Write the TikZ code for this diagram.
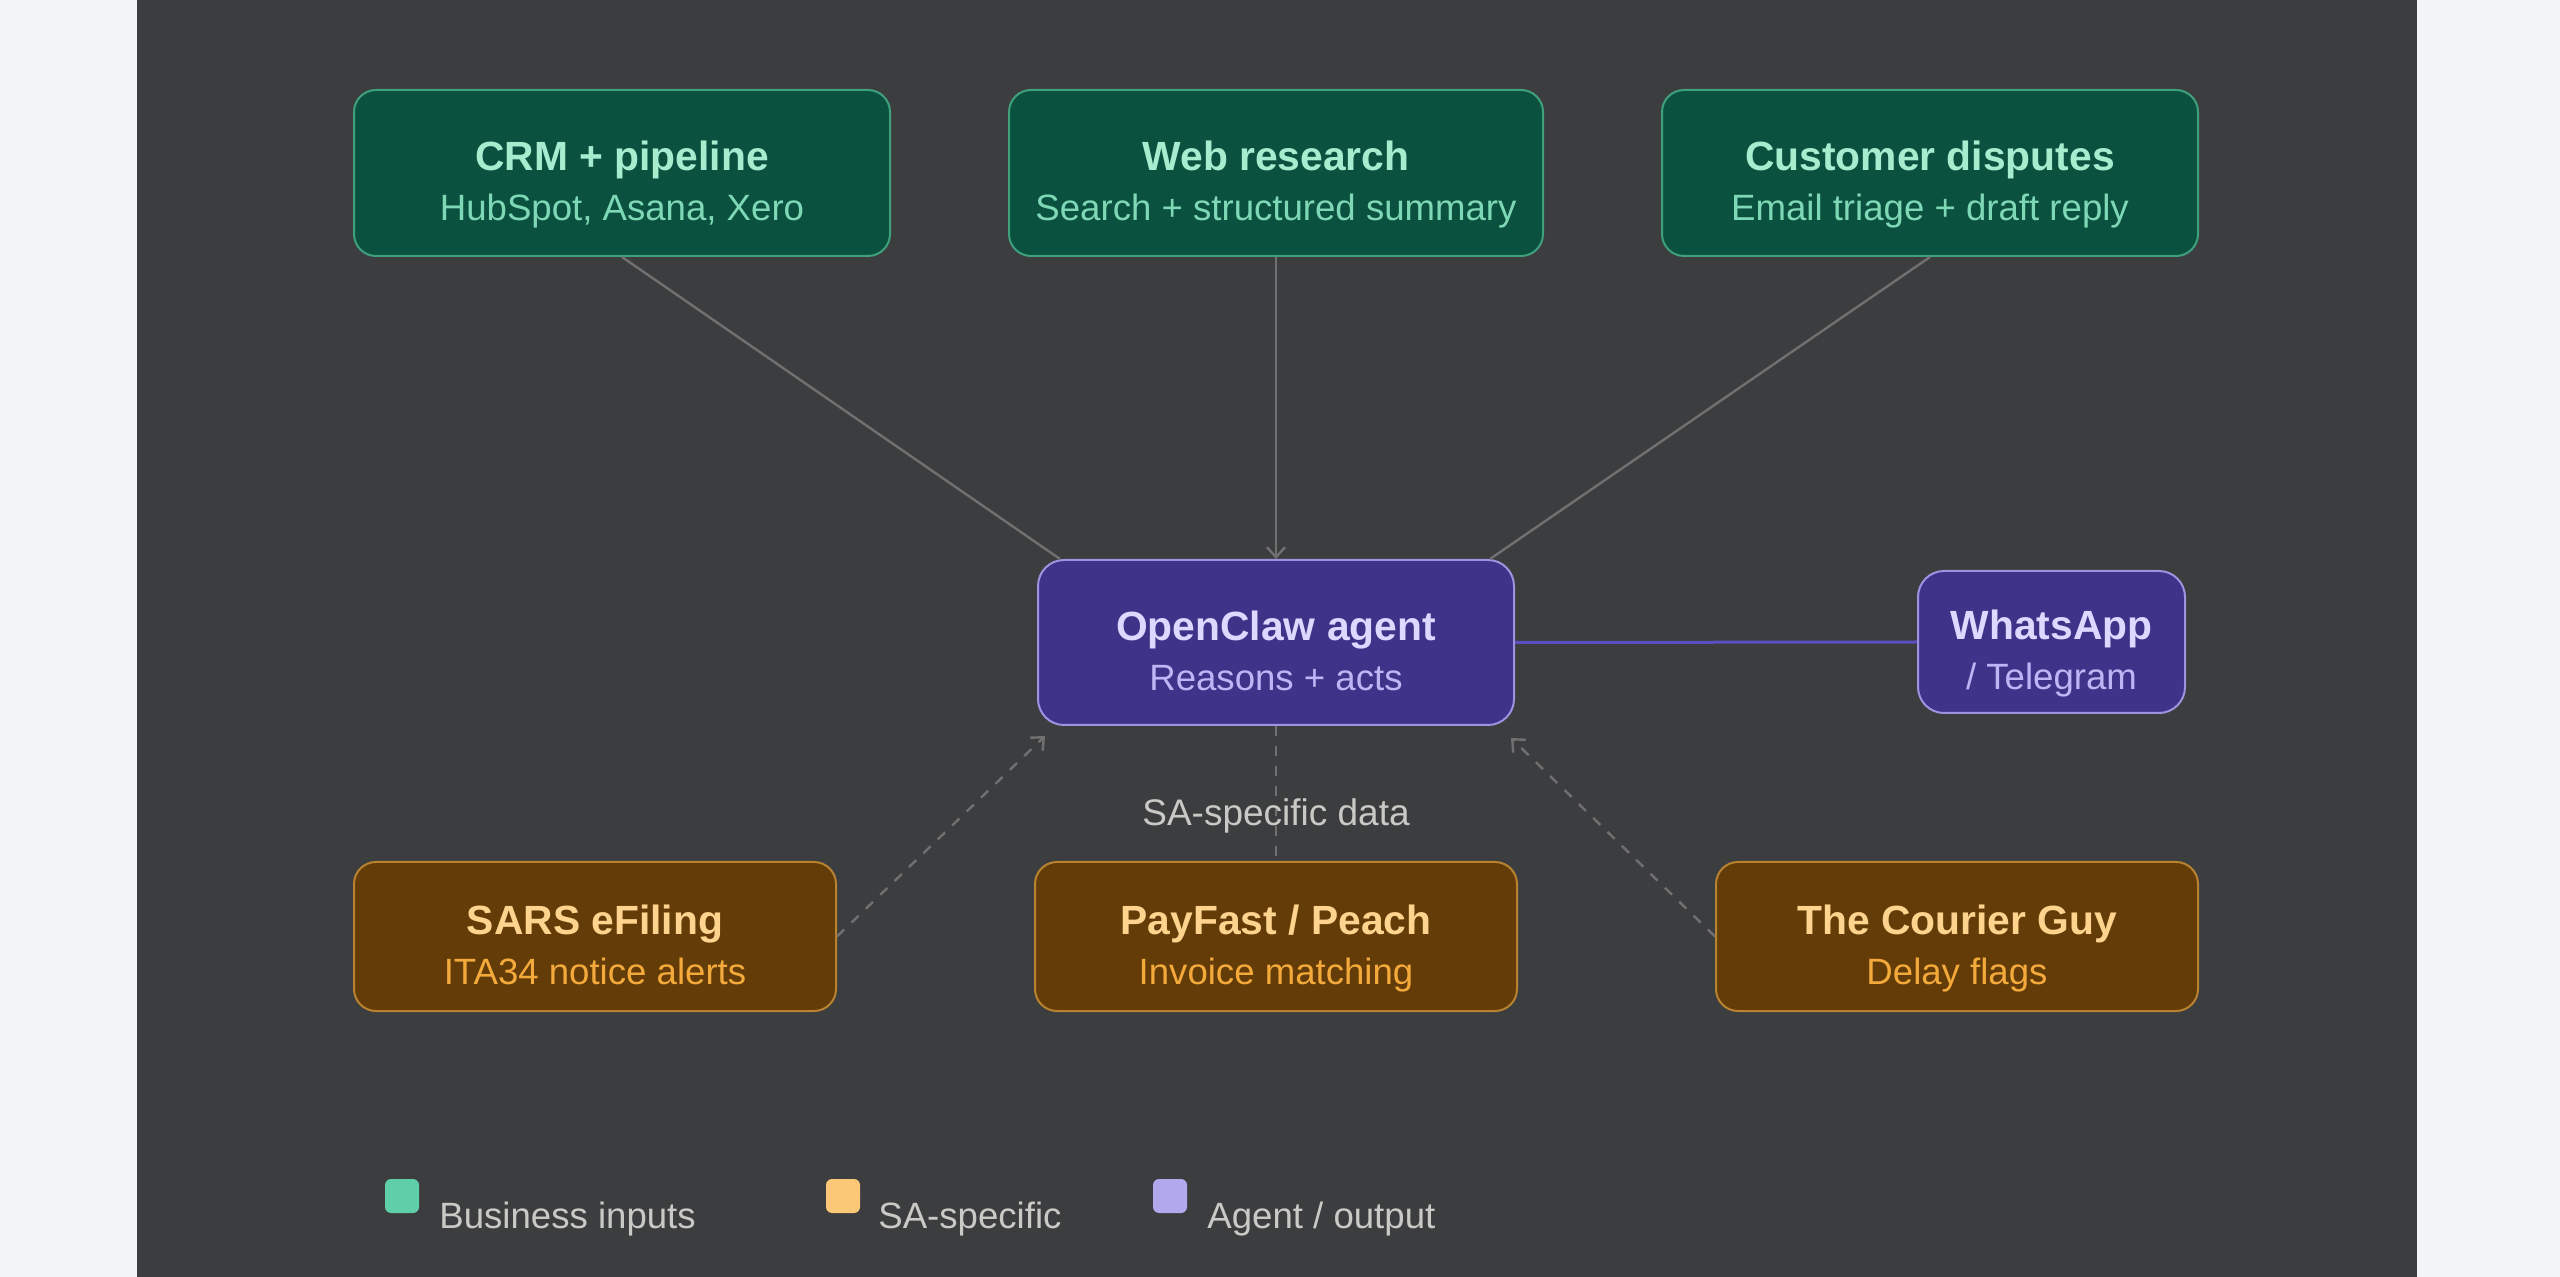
\documentclass[tikz,border=0pt]{standalone}
\usepackage{fontspec}
\setmainfont{Liberation Sans}
\usetikzlibrary{arrows.meta,calc}
\definecolor{outer}{HTML}{F3F4F8}
\definecolor{panel}{HTML}{3C3D3F}
\definecolor{gfill}{HTML}{0B5140}
\definecolor{gdraw}{HTML}{3FA07C}
\definecolor{gtext}{HTML}{A8ECD0}
\definecolor{gsubc}{HTML}{7FD8B5}
\definecolor{ofill}{HTML}{633C08}
\definecolor{odraw}{HTML}{B9822E}
\definecolor{otext}{HTML}{FDD38E}
\definecolor{osubc}{HTML}{F4A93B}
\definecolor{pfill}{HTML}{3E3388}
\definecolor{pdraw}{HTML}{9D93E0}
\definecolor{ptext}{HTML}{DCD8FF}
\definecolor{psubc}{HTML}{BDB5F5}
\definecolor{conn}{HTML}{707070}
\definecolor{pconn}{HTML}{5A4FC0}
\definecolor{legtext}{HTML}{C9C9C5}
\definecolor{lgg}{HTML}{5FCFA9}
\definecolor{lgo}{HTML}{FBC878}
\definecolor{lgp}{HTML}{B1A8EE}
\tikzset{
  basebox/.style={rounded corners=11pt, line width=1pt, inner sep=0pt},
  gbox/.style={basebox, fill=gfill, draw=gdraw},
  obox/.style={basebox, fill=ofill, draw=odraw},
  pbox/.style={basebox, fill=pfill, draw=pdraw, rounded corners=13pt},
  ttl/.style={inner sep=0pt, anchor=base, font=\fontsize{20.4}{24}\selectfont\bfseries},
  sbt/.style={inner sep=0pt, anchor=base, font=\fontsize{18.3}{22}\selectfont},
  gtitle/.style={ttl, text=gtext}, gsub/.style={sbt, text=gsubc},
  otitle/.style={ttl, text=otext}, osub/.style={sbt, text=osubc},
  ptitle/.style={ttl, text=ptext}, psub/.style={sbt, text=psubc},
  link/.style={draw=conn, line width=1.2pt},
  dlink/.style={draw=conn, line width=1.2pt, dash pattern=on 5pt off 5pt},
  tip/.style={-{Straight Barb[length=5pt,width=9pt]}},
  legsq/.style={minimum size=17pt, inner sep=0pt, rounded corners=3pt},
  legtx/.style={inner sep=0pt, anchor=base west, text=legtext, font=\fontsize{18.3}{22}\selectfont},
}
\newcommand{\mkbox}[7]{%
  \node[#5box, minimum width=#3, minimum height=#4] (#1) at #2 {};
  \node[#5title] (#1-t) at ([yshift=1pt]#1.center) {#6};
  \node[#5sub] (#1-s) at ([yshift=-24pt]#1.center) {#7};
}
\begin{document}
\begin{tikzpicture}[x=0.5pt,y=-0.5pt]
\useasboundingbox (0,0) rectangle (2560,1277);
\fill[outer] (0,0) rectangle (2560,1277);
\fill[panel] (137,0) rectangle (2417,1277);

\mkbox{crm}{(622,173)}{268pt}{83pt}{g}{CRM + pipeline}{HubSpot, Asana, Xero}
\mkbox{web}{(1276,173)}{267pt}{83pt}{g}{Web research}{Search + structured summary}
\mkbox{cust}{(1930,173)}{268pt}{83pt}{g}{Customer disputes}{Email triage + draft reply}

\mkbox{agent}{(1276,642.5)}{238pt}{82.5pt}{p}{OpenClaw agent}{Reasons + acts}
\mkbox{wa}{(2051.5,642)}{133.5pt}{71pt}{p}{WhatsApp}{/ Telegram}

\mkbox{sars}{(595,936.5)}{241pt}{74.5pt}{o}{SARS eFiling}{ITA34 notice alerts}
\mkbox{pay}{(1276,936.5)}{241pt}{74.5pt}{o}{PayFast / Peach}{Invoice matching}
\mkbox{cour}{(1957,936.5)}{241pt}{74.5pt}{o}{The Courier Guy}{Delay flags}

% connectors
\draw[link] (crm.south) -- ([xshift=11.5pt]agent.north west);
\draw[link, tip] (web.south) -- (agent.north);
\draw[link] (cust.south) -- ([xshift=-12.5pt]agent.north east);
\draw[draw=pconn, line width=1.5pt] (agent.east) -- (wa.east -| wa.west);

\draw[dlink, tip] (sars.east) -- ([xshift=4pt,yshift=-5pt]agent.south west);
\draw[dlink] (agent.south) -- (pay.north);
\draw[dlink, tip] (cour.west) -- ([xshift=-2pt,yshift=-6pt]agent.south east);

\node[inner sep=0pt, anchor=base, text=legtext, font=\fontsize{18.5}{22}\selectfont] (sadata) at (1276,826) {SA-specific data};

% legend
\node[legsq, fill=lgg] (l1) at (402,1196) {};
\node[legtx] (l1t) at (439,1228) {Business inputs};
\node[legsq, fill=lgo] (l2) at (843,1196) {};
\node[legtx] (l2t) at (878,1228) {SA-specific};
\node[legsq, fill=lgp] (l3) at (1170,1196) {};
\node[legtx] (l3t) at (1207,1228) {Agent / output};
\end{tikzpicture}
\end{document}
